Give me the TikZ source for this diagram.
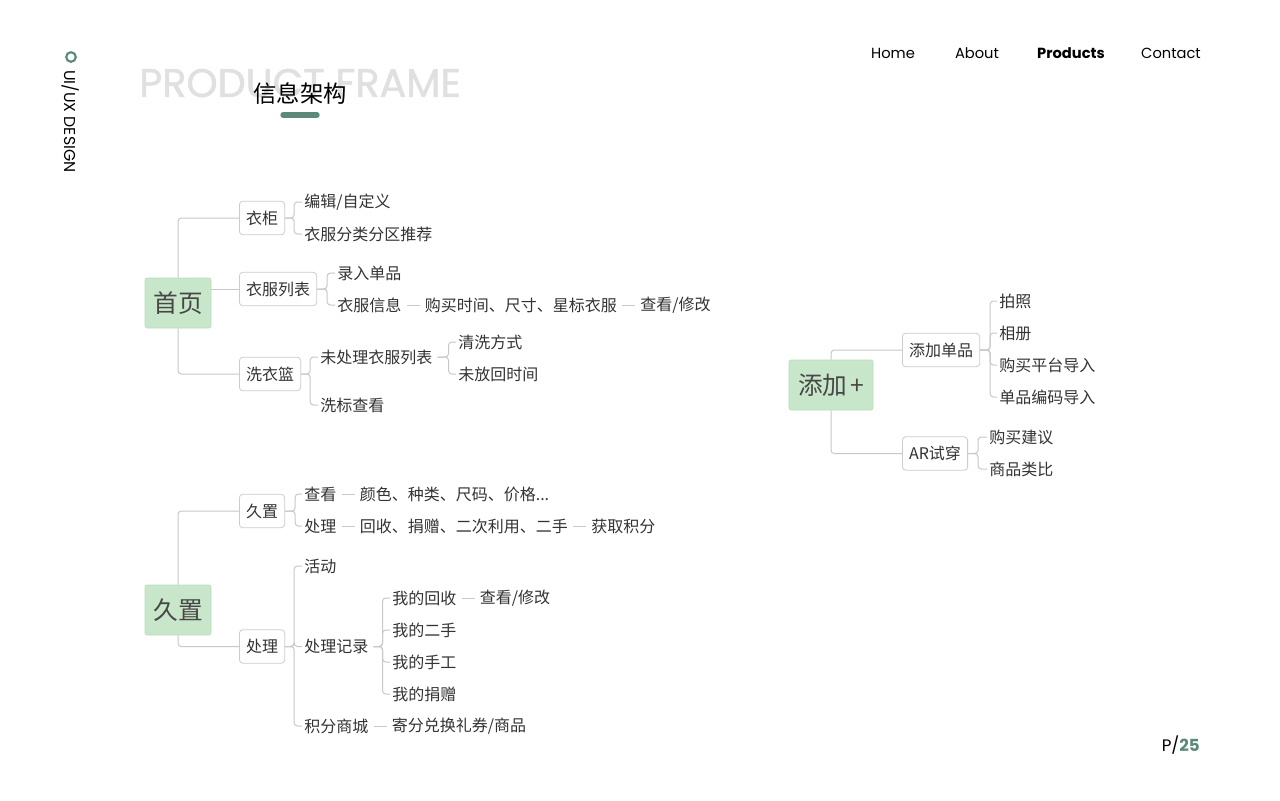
\documentclass[tikz,border=0pt]{standalone}
\usepackage{fontspec}
\setmainfont{Noto Sans CJK SC}
\newfontfamily\latinf{Poppins}
\newfontfamily\ghostf[FakeBold=1.2]{Poppins}
\usetikzlibrary{positioning}
\definecolor{accent}{HTML}{5B8A7B}
\definecolor{rootfill}{HTML}{C8E6C9}
\definecolor{rootline}{HTML}{B8DDBA}
\definecolor{linegray}{HTML}{C8C8C8}
\definecolor{boxgray}{HTML}{CCCCCC}
\definecolor{txt}{HTML}{333333}
\definecolor{ghost}{HTML}{E0E0E0}
\tikzset{
  rootnode/.style={draw=rootline, fill=rootfill, rounded corners=1.5pt, minimum height=37.5pt,
    inner xsep=5pt, text=txt!90!white, font=\fontsize{18.5}{20}\selectfont},
  boxnode/.style={draw=boxgray, fill=white, rounded corners=2.5pt, minimum height=25pt,
    inner xsep=5pt, inner ysep=0pt, text=txt, font=\fontsize{12}{14}\selectfont, line width=0.6pt},
  leaf/.style={anchor=west, inner xsep=1.5pt, inner ysep=1pt, text=txt, font=\fontsize{12}{14}\selectfont},
  conn/.style={draw=linegray, line width=0.75pt, rounded corners=2.5pt},
  sep/.style={draw=linegray, line width=0.75pt, shorten <=2.25pt, shorten >=2.25pt},
  nav/.style={font=\latinf\fontsize{11}{13}\selectfont, text=black},
  node distance=14.25pt
}
\begin{document}
\begin{tikzpicture}[x=0.75pt, y=-0.75pt]
\useasboundingbox (0,0) rectangle (1280,800);
\fill[white] (0,0) rectangle (1280,800);

% side label
\draw[accent, line width=1.6pt] (71,57) circle (3.6pt);
\node[rotate=-90, anchor=west, font=\latinf\fontsize{11.8}{13}\selectfont, text=black, inner sep=0pt] (side) at (71,70) {UI/UX DESIGN};

% title
\node[anchor=west, font=\ghostf\fontsize{29.8}{33}\selectfont, text=ghost, inner sep=0pt] (ghost) at (139,83) {PRODUCT FRAME};
\node[font=\fontsize{17.5}{20}\selectfont, text=black, inner sep=0pt] (title) at (300,94) {信息架构};
\coordinate (ul1) at (283,115);
\coordinate (ul2) at (317,115);
\draw[accent, line width=4pt, line cap=round] (ul1) -- (ul2);

% nav
\node[nav] (home) at (893,53) {Home};
\node[nav] (about) at (977,53) {About};
\node[nav, font=\latinf\bfseries\fontsize{11}{13}\selectfont] (prod) at (1071,53) {Products};
\node[nav] (contact) at (1171,53) {Contact};

% page number
\node[anchor=east, font=\latinf\fontsize{12.5}{14}\selectfont, inner sep=0pt] (page) at (1200,745) {P/\textcolor{accent}{\bfseries 25}};

% ===== 首页 =====
\node[rootnode, minimum width=49.5pt] (r1) at (178,303) {首页};
\node[boxnode, anchor=west] (a1) at (239,218) {衣柜};
\node[boxnode, anchor=west] (a2) at (239,289) {衣服列表};
\node[boxnode, anchor=west] (a3) at (239,374) {洗衣篮};
\draw[conn] (r1.north) |- (a1.west);
\draw[conn] (r1.east |- a2.west) -- (a2.west);
\draw[conn] (r1.south) |- (a3.west);

\node[leaf] (c11) at (302,202) {编辑/自定义};
\node[leaf] (c12) at (302,234) {衣服分类分区推荐};
\draw[conn] (a1.east) -- ++(9,0) |- (c11.west);
\draw[conn] (a1.east) -- ++(9,0) |- (c12.west);

\node[leaf] (c21) at (335,273) {录入单品};
\node[leaf] (c22) at (335,305) {衣服信息};
\node[leaf, right=of c22] (c23) {购买时间、尺寸、星标衣服};
\node[leaf, right=of c23] (c24) {查看/修改};
\draw[conn] (a2.east) -- ++(10,0) |- (c21.west);
\draw[conn] (a2.east) -- ++(10,0) |- (c22.west);
\draw[sep] (c22.east) -- (c23.west);
\draw[sep] (c23.east) -- (c24.west);

\node[leaf] (c31) at (318,357) {未处理衣服列表};
\node[leaf] (c32) at (318,405) {洗标查看};
\draw[conn] (a3.east) -- ++(9,0) |- (c31.west);
\draw[conn] (a3.east) -- ++(9,0) |- (c32.west);

\node[leaf] (c311) at (456,342) {清洗方式};
\node[leaf] (c312) at (456,374) {未放回时间};
\draw[conn, shorten <=2.25pt] (c31.east) -- ++(14,0) |- (c311.west);
\draw[conn, shorten <=2.25pt] (c31.east) -- ++(14,0) |- (c312.west);

% ===== 添加+ =====
\node[rootnode, minimum width=63pt] (r2) at (831,385) {添加\kern2pt+};
\node[boxnode, anchor=west] (b1) at (902,350) {添加单品};
\node[boxnode, anchor=west] (b2) at (902,453.5) {AR试穿};
\draw[conn] (r2.north) |- (b1.west);
\draw[conn] (r2.south) |- (b2.west);

\node[leaf] (k1) at (997,301) {拍照};
\node[leaf] (k2) at (997,333) {相册};
\node[leaf] (k3) at (997,365) {购买平台导入};
\node[leaf] (k4) at (997,397) {单品编码导入};
\foreach \k in {k1,k2,k3,k4} \draw[conn] (b1.east) -- ++(10,0) |- (\k.west);

\node[leaf] (m1) at (987,437) {购买建议};
\node[leaf] (m2) at (987,469) {商品类比};
\foreach \k in {m1,m2} \draw[conn] (b2.east) -- ++(10,0) |- (\k.west);

% ===== 久置 =====
\node[rootnode, minimum width=49.5pt] (r3) at (178,610) {久置};
\node[boxnode, anchor=west] (d1) at (239,511) {久置};
\node[boxnode, anchor=west] (d2) at (239,646.5) {处理};
\draw[conn] (r3.north) |- (d1.west);
\draw[conn] (r3.south) |- (d2.west);

\node[leaf] (e11) at (302,494) {查看};
\node[leaf, right=of e11] (e12) {颜色、种类、尺码、价格...};
\node[leaf] (e21) at (302,526) {处理};
\node[leaf, right=of e21] (e22) {回收、捐赠、二次利用、二手};
\node[leaf, right=of e22] (e23) {获取积分};
\draw[conn] (d1.east) -- ++(10,0) |- (e11.west);
\draw[conn] (d1.east) -- ++(10,0) |- (e21.west);
\draw[sep] (e11.east) -- (e12.west);
\draw[sep] (e21.east) -- (e22.west);
\draw[sep] (e22.east) -- (e23.west);

\node[leaf] (f1) at (302,566) {活动};
\node[leaf] (f2) at (302,646.5) {处理记录};
\node[leaf] (f3) at (302,726) {积分商城};
\node[leaf, right=of f3] (f31) {寄分兑换礼券/商品};
\foreach \k in {f1,f2,f3} \draw[conn] (d2.east) -- ++(9,0) |- (\k.west);
\draw[sep] (f3.east) -- (f31.west);

\node[leaf] (g1) at (390,598) {我的回收};
\node[leaf, right=of g1] (g11) {查看/修改};
\node[leaf] (g2) at (390,630) {我的二手};
\node[leaf] (g3) at (390,662) {我的手工};
\node[leaf] (g4) at (390,694) {我的捐赠};
\foreach \k in {g1,g2,g3,g4} \draw[conn, shorten <=2.25pt] (f2.east) -- ++(12,0) |- (\k.west);
\draw[sep] (g1.east) -- (g11.west);
\end{tikzpicture}
\end{document}
